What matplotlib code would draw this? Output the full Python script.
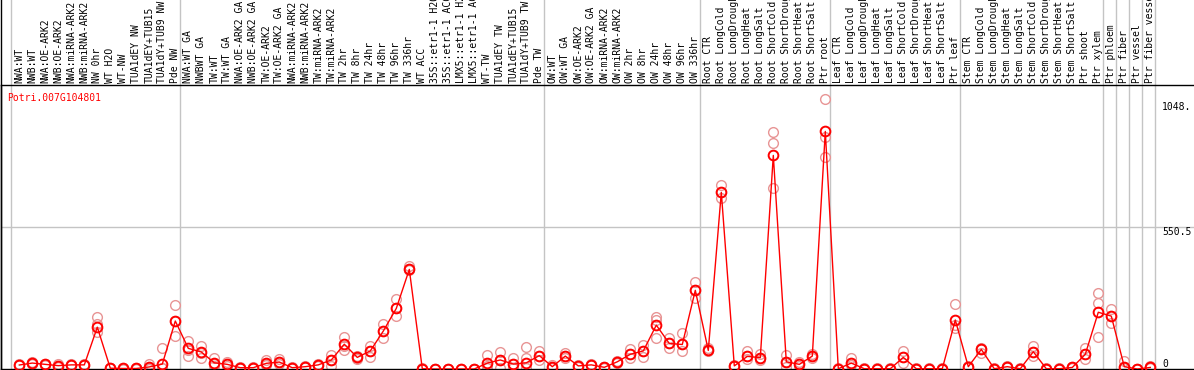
import numpy as np
import matplotlib
matplotlib.use("Agg")
import matplotlib.pyplot as plt
from matplotlib.lines import Line2D

gene = "Potri.007G104801"

samples = [
    "NWA:WT", "NWB:WT", "NWA:OE-ARK2", "NWB:OE-ARK2", "NWA:miRNA-ARK2", "NWB:miRNA-ARK2",
    "NW 0hr", "WT H2O", "WT-NW", "TUA1dEY NW", "TUA1dEY+TUB15", "TUA1dY+TUB9 NW", "Pde NW",
    "NWA:WT GA", "NWBWT GA", "TW:WT", "TW:WT GA", "NWA:OE-ARK2 GA", "NWB:OE-ARK2 GA",
    "TW:OE-ARK2", "TW:OE-ARK2 GA", "NWA:miRNA-ARK2", "NWB:miRNA-ARK2", "TW:miRNA-ARK2",
    "TW:miRNA-ARK2", "TW 2hr", "TW 8hr", "TW 24hr", "TW 48hr", "TW 96hr", "TW 336hr",
    "WT ACC", "35S::etr1-1 H2O", "35S::etr1-1 ACC", "LMX5::etr1-1 H2O", "LMX5::etr1-1 ACC",
    "WT-TW", "TUA1dEY TW", "TUA1dEY+TUB15", "TUA1dY+TUB9 TW", "Pde TW",
    "OW:WT", "OW:WT GA", "OW:OE-ARK2", "OW:OE-ARK2 GA", "OW:miRNA-ARK2", "OW:miRNA-ARK2",
    "OW 2hr", "OW 8hr", "OW 24hr", "OW 48hr", "OW 96hr", "OW 336hr",
    "Root CTR", "Root LongCold", "Root LongDrought", "Root LongHeat", "Root LongSalt",
    "Root ShortCold", "Root ShortDrought", "Root ShortHeat", "Root ShortSalt", "Ptr root",
    "Leaf CTR", "Leaf LongCold", "Leaf LongDrought", "Leaf LongHeat", "Leaf LongSalt",
    "Leaf ShortCold", "Leaf ShortDrought", "Leaf ShortHeat", "Leaf ShortSalt", "Ptr leaf",
    "Stem CTR", "Stem LongCold", "Stem LongDrought", "Stem LongHeat", "Stem LongSalt",
    "Stem ShortCold", "Stem ShortDrought", "Stem ShortHeat", "Stem ShortSalt", "Ptr shoot",
    "Ptr xylem", "Ptr phloem", "Ptr fiber", "Ptr vessel", "Ptr fiber vessel",
]

# group boundaries (index of first sample of each new group, plus ends)
group_bounds = [0, 13, 41, 53, 63, 73, 84, 85, 86, 87, 88]

mean_vals = [
    15.5, 23, 18, 13, 16, 16, 162, 3, 2, 2, 8, 19, 186,
    80, 66, 24, 18, 5, 5, 22, 27, 5, 9, 16, 35, 96, 45, 70, 147, 235, 386,
    1, 0, 0, 0, 0, 23, 35, 19, 24, 52,
    9, 50, 12, 16, 6.5, 28, 57, 70, 170, 99, 95, 305,
    72, 685, 12, 49, 44, 828, 28, 18, 50, 921,
    1, 23, 1, 1, 1, 45, 1, 1, 1, 190,
    9, 76, 1, 9, 1, 67, 1, 1, 6, 57, 220,
    205, 9, 0, 6,
]

rep_a = [
    18, 27, 21, 20, 18, 18, 202, 4, 5, 3, 21, 81, 249,
    110, 90, 42, 27, 6, 6, 35, 38, 6, 12, 18, 55, 124, 50, 90, 176, 272, 400,
    2, 1, 1, 1, 1, 55, 64, 42, 87, 70,
    16, 61, 16, 18, 8, 32, 77, 94, 202, 120, 139, 339,
    81, 715, 14, 68, 60, 920, 55, 29, 58, 1048,
    2, 42, 2, 2, 2, 70, 2, 2, 2, 253,
    12, 80, 2, 12, 2, 90, 2, 2, 9, 83, 296,
    233, 31, 1, 12,
]
rep_b = [
    14, 22, 17, 10, 15, 14, 176, 2, 1, 2, 2, 5, 186,
    75, 62, 20, 18, 4, 4, 20, 27, 4, 8, 15, 35, 90, 44, 70, 148, 235, 386,
    1, 0, 0, 0, 0, 12, 35, 18, 42, 52,
    9, 50, 12, 16, 6, 28, 57, 70, 191, 99, 95, 305,
    72, 685, 12, 49, 44, 877, 28, 18, 50, 901,
    1, 23, 1, 1, 1, 45, 1, 1, 1, 171,
    9, 76, 1, 9, 1, 67, 1, 1, 6, 57, 254,
    207, 9, 0, 6,
]
rep_c = [
    15, 20, 16, 9, 14, 15, 142, 2, 1, 1, 1, 2, 126,
    51, 42, 10, 12, 4, 4, 14, 18, 4, 6, 13, 12, 74, 40, 46, 120, 204, 384,
    0, 0, 0, 0, 0, 5, 5, 3, 5, 35,
    4, 42, 8, 14, 5, 22, 42, 48, 120, 83, 68, 276,
    70, 664, 10, 40, 35, 702, 9, 12, 42, 823,
    0, 15, 0, 0, 0, 25, 0, 0, 0, 158,
    6, 61, 0, 6, 0, 51, 0, 0, 4, 40, 124,
    178, 3, 0, 3,
]

y_max = 1101
y_mid = 550.5
y_top = 1048
y_top_label = "1048."

W, H = 1194, 370
fig = plt.figure(figsize=(W / 100, H / 100), dpi=100)
fig.patch.set_facecolor("white")

ax_left_px, ax_right_px = 1, 1194
ax_top_px, ax_bot_px = 85, 369
ax = fig.add_axes([ax_left_px / W, (H - ax_bot_px) / H,
                   (ax_right_px - ax_left_px) / W, (ax_bot_px - ax_top_px) / H])

n = len(samples)
x = np.arange(n)
px0, step = 19.3, 13.0
ax.set_xlim((ax_left_px - px0) / step, (ax_right_px - px0) / step)
ax.set_ylim(0, y_max)

ax.spines["right"].set_visible(False)
for s in ["left", "top", "bottom"]:
    ax.spines[s].set_color("black")
    ax.spines[s].set_linewidth(1.0)
ax.set_xticks([])
ax.set_yticks([])

grid_col = "#c4c4c4"
ext = 1 + (ax_top_px) / (ax_bot_px - ax_top_px)
for b in group_bounds:
    xb = b - (px0 - 11) / step
    ax.axvline(xb, ymin=0, ymax=ext, color=grid_col, lw=1.0, clip_on=False, zorder=0)
ax.axhline(y_mid, color=grid_col, lw=1.0, zorder=0, xmax=1.0)

mono = "DejaVu Sans Mono"
pale = "#e89494"
for reps in (rep_a, rep_b, rep_c):
    ax.plot(x, reps, linestyle="none", marker="o", markersize=7, mfc="none",
            mec=pale, mew=1.0, zorder=2, clip_on=False)
ax.plot(x, mean_vals, color="red", lw=1.0, zorder=3)
ax.plot(x, mean_vals, linestyle="none", marker="o", markersize=7, mfc="none",
        mec="red", mew=1.4, zorder=4, clip_on=False)

for xi, lab in zip(x, samples):
    ax.text(xi, 1 + 2 / (ax_bot_px - ax_top_px), lab, rotation=90, ha="center",
            va="bottom", fontsize=7, family=mono, color="black",
            transform=ax.get_xaxis_transform(), clip_on=False)

ax.text(6 / (ax_right_px - ax_left_px), 1 - 8 / (ax_bot_px - ax_top_px), gene,
        transform=ax.transAxes, ha="left", va="top", fontsize=7, family=mono,
        color="red")

lab_x = (1162 - ax_left_px) / (ax_right_px - ax_left_px)
ax.text(lab_x, y_top - 12, y_top_label, transform=ax.get_yaxis_transform(),
        ha="left", va="top", fontsize=7, family=mono, color="black")
ax.text(lab_x, y_mid, "550.5", transform=ax.get_yaxis_transform(),
        ha="left", va="top", fontsize=7, family=mono, color="black")
ax.text(lab_x, 0, "0", transform=ax.get_yaxis_transform(),
        ha="left", va="bottom", fontsize=7, family=mono, color="black")

fig.add_artist(Line2D([0.5 / W, 0.5 / W], [0, 1], color="black", lw=1.0,
                      transform=fig.transFigure))

fig.savefig("out.png", dpi=100)
